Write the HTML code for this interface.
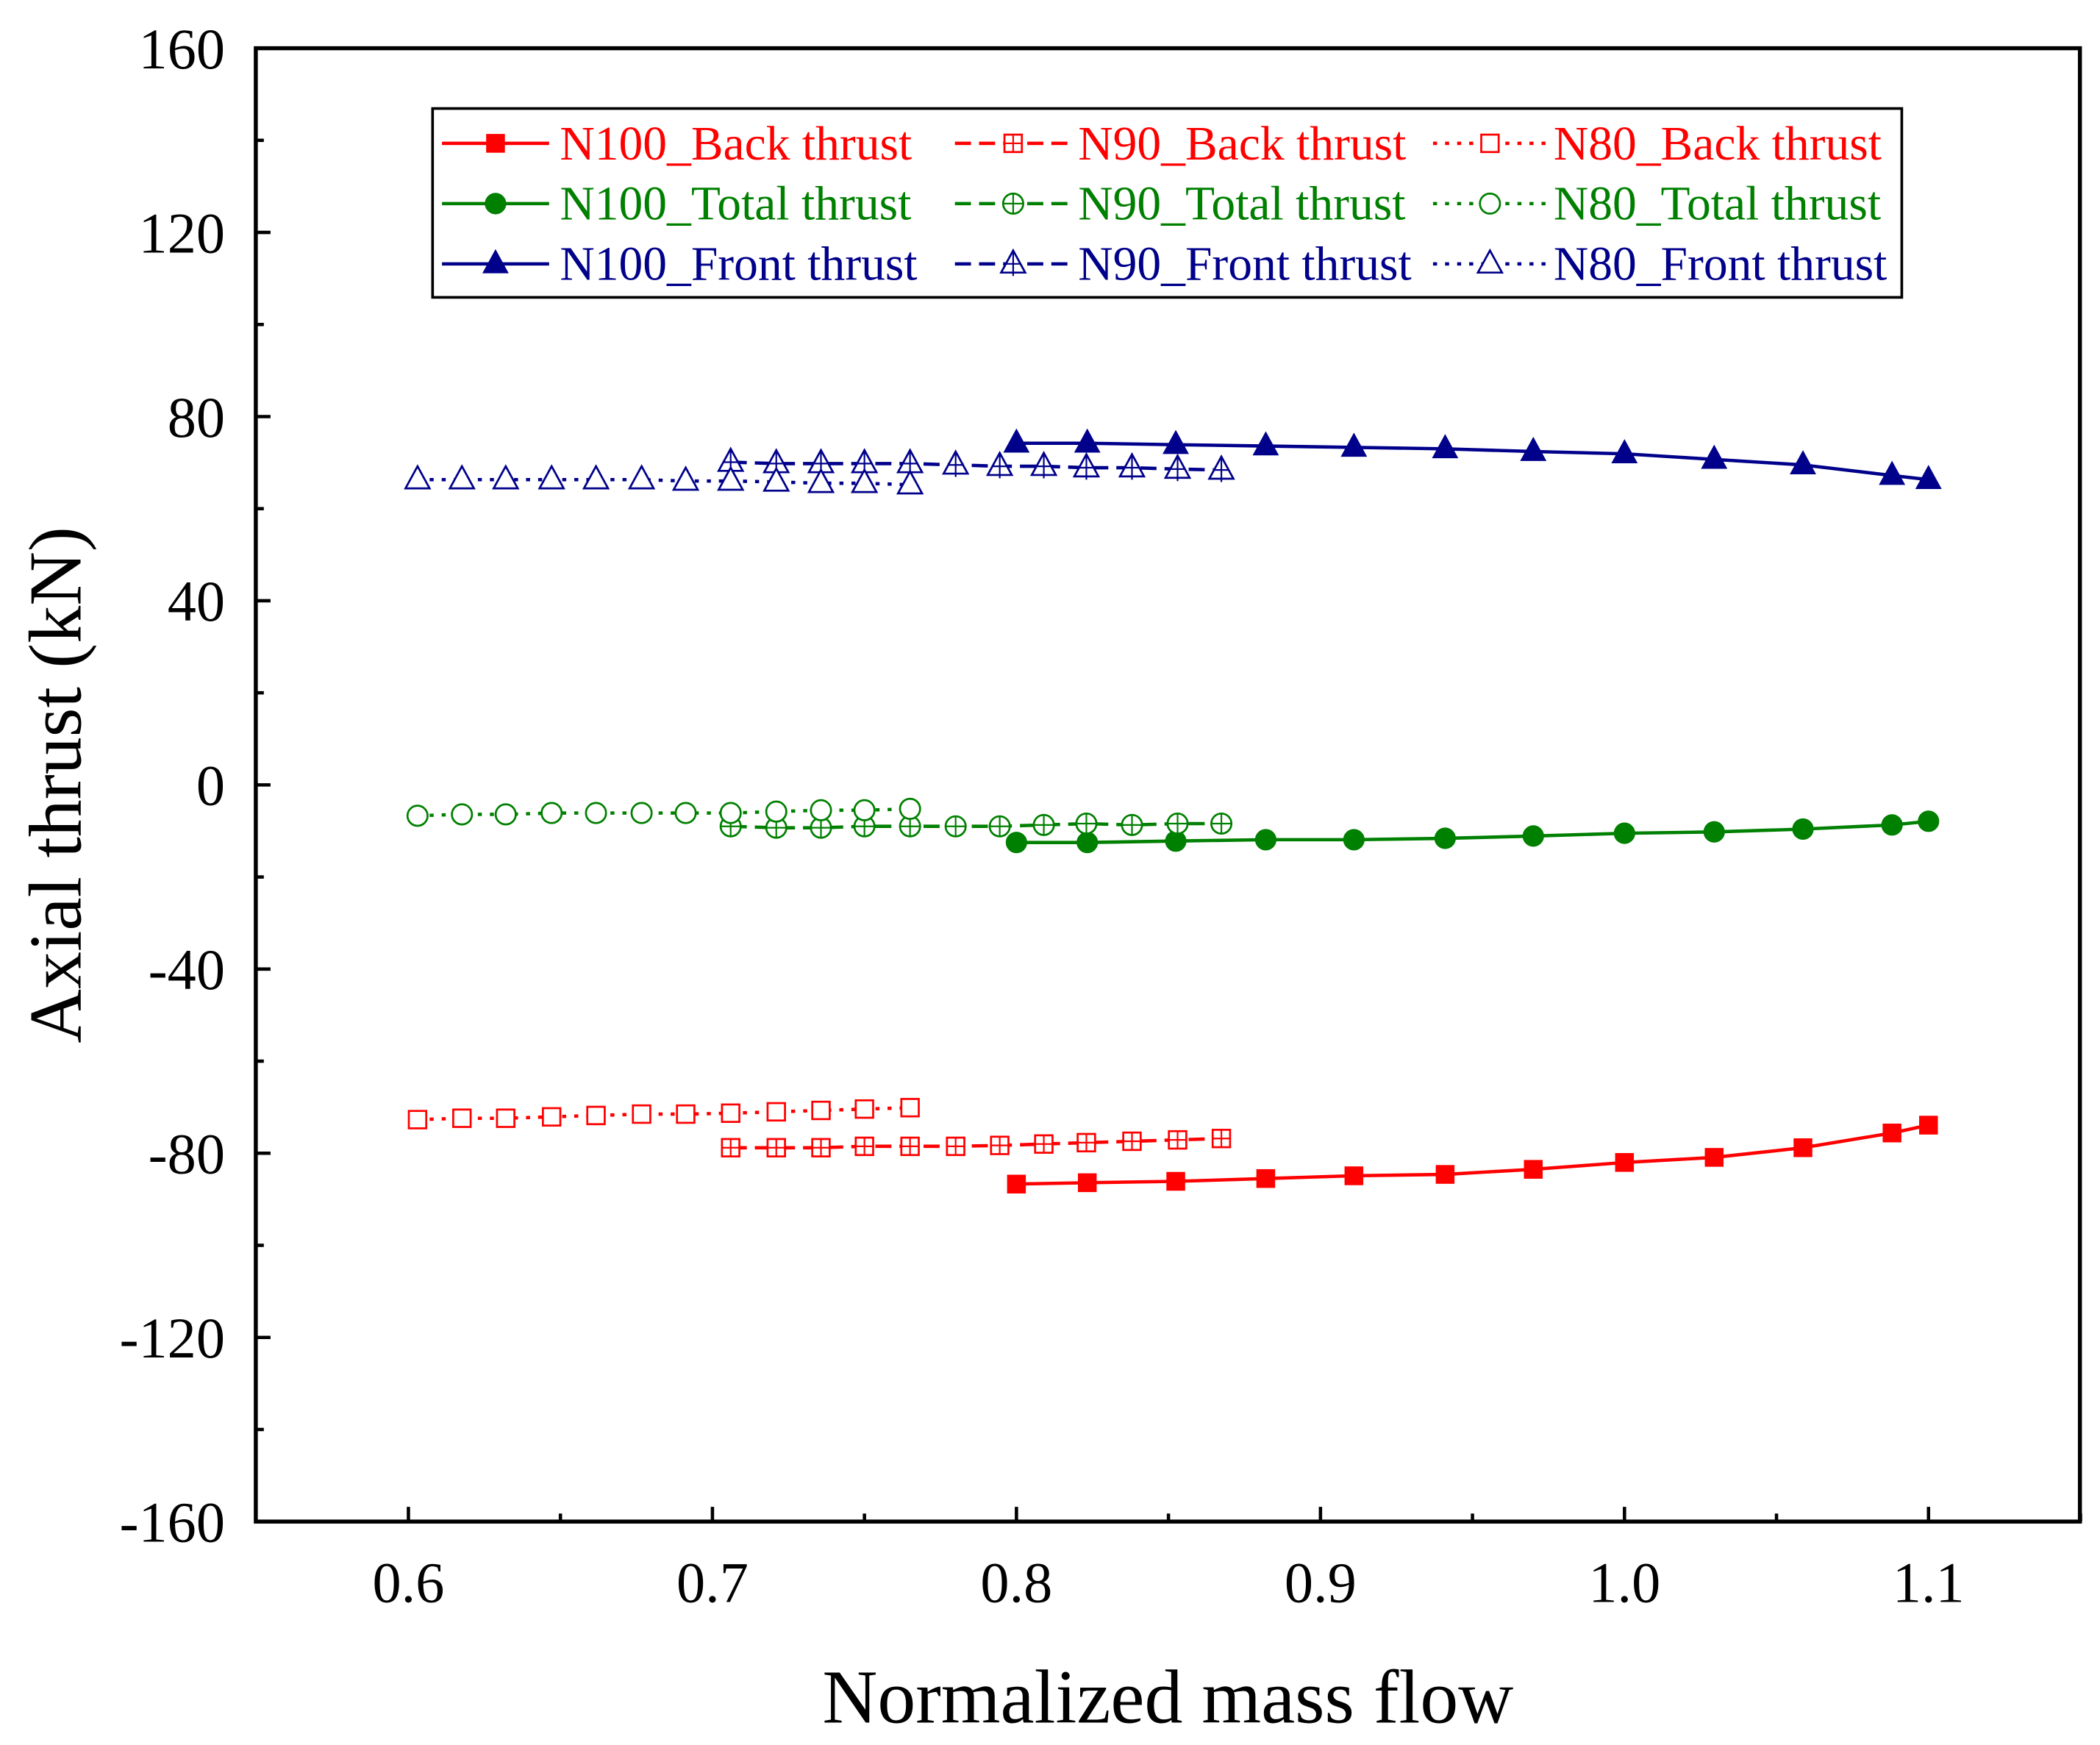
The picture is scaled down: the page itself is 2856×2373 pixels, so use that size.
<!DOCTYPE html>
<html><head><meta charset="utf-8"><style>html,body{margin:0;padding:0;background:#fff}svg{display:block}</style></head>
<body>
<svg id="chart" width="2856" height="2373" viewBox="0 0 1568 1302.8" xmlns="http://www.w3.org/2000/svg" font-family="'Liberation Serif', serif">
<rect x="0" y="0" width="1568" height="1303" fill="#fff"/>
<g id="plot"></g>
</svg>
<script>
const xTicks=[0.6,0.7,0.8,0.9,1.0,1.1];
const xTickLabels=["0.6","0.7","0.8","0.9","1.0","1.1"];
const yTicks=[160,120,80,40,0,-40,-80,-120,-160];
const yTickLabels=["160","120","80","40","0","-40","-80","-120","-160"];
const n100X=[0.8,0.8233,0.8524,0.882,0.911,0.941,0.970,1.0,1.0295,1.0587,1.088,1.1];
const n100Back=[-86.7,-86.4,-86.1,-85.5,-84.9,-84.6,-83.5,-82.0,-80.9,-78.8,-75.6,-73.9];
const n100Total=[-12.5,-12.5,-12.2,-11.9,-11.9,-11.6,-11.1,-10.5,-10.2,-9.6,-8.7,-7.9];
const n100Front=[74.2,74.2,73.9,73.6,73.3,73.0,72.4,71.9,70.7,69.5,67.2,66.3];
const n90X=[0.706,0.721,0.7357,0.750,0.765,0.780,0.7945,0.809,0.823,0.838,0.853,0.8674];
const n90Back=[-78.8,-78.8,-78.8,-78.5,-78.5,-78.5,-78.3,-78.0,-77.7,-77.4,-77.1,-76.8];
const n90Total=[-9.0,-9.3,-9.3,-9.0,-9.0,-9.0,-9.0,-8.7,-8.4,-8.7,-8.4,-8.4];
const n90Front=[70.1,69.8,69.8,69.8,69.8,69.5,69.2,69.2,68.9,68.9,68.6,68.4];
const n80X=[0.603,0.6176,0.632,0.6471,0.6617,0.6767,0.6912,0.706,0.721,0.7357,0.75,0.765];
const n80Back=[-72.7,-72.4,-72.4,-72.1,-71.8,-71.5,-71.5,-71.3,-71.0,-70.7,-70.4,-70.1];
const n80Total=[-6.7,-6.4,-6.4,-6.1,-6.1,-6.1,-6.1,-6.1,-5.8,-5.5,-5.5,-5.2];
const n80Front=[66.3,66.3,66.3,66.3,66.3,66.3,66.0,66.0,65.8,65.5,65.5,65.2];

const L=191,R=1553,T=36,B=1136;
const X0=0.5498,X1=1.1498,Y0=-160,Y1=160;
const sx=v=>L+(v-X0)/(X1-X0)*(R-L);
const sy=v=>B-(v-Y0)/(Y1-Y0)*(B-T);
const g=document.getElementById('plot');
const NS='http://www.w3.org/2000/svg';
function mk(tag,attrs,parent){const e=document.createElementNS(NS,tag);for(const k in attrs)e.setAttribute(k,attrs[k]);(parent||g).appendChild(e);return e;}

const frame=mk('rect',{x:L,y:T,width:R-L,height:B-T,fill:'none',stroke:'#000','stroke-width':3});


xTicks.forEach((v,i)=>{
  const t=mk('line',{x1:sx(v),x2:sx(v),y1:B,y2:B-11,stroke:'#000','stroke-width':2.5});
  
  
  const m=mk('line',{x1:sx(v+0.05),x2:sx(v+0.05),y1:B,y2:B-6,stroke:'#000','stroke-width':2.5});
  
  
  const lb=mk('text',{x:sx(v),y:1196,'font-size':43,'text-anchor':'middle'});
  lb.textContent=xTickLabels[i];
  
  
});
yTicks.forEach((v,i)=>{
  const t=mk('line',{x1:L,x2:L+11,y1:sy(v),y2:sy(v),stroke:'#000','stroke-width':2.5});
  
  
  if(v>-160){const m=mk('line',{x1:L,x2:L+6,y1:sy(v-20),y2:sy(v-20),stroke:'#000','stroke-width':2.5});
  
  }
  const lb=mk('text',{x:168,y:sy(v)+15,'font-size':43,'text-anchor':'end'});
  lb.textContent=yTickLabels[i];
  
  
});
const xt=mk('text',{x:872,y:1286,'font-size':57,'text-anchor':'middle'});
xt.textContent='Normalized mass flow';


const yt=mk('text',{x:0,y:0,'font-size':56,'text-anchor':'middle',transform:'translate(60,586) rotate(-90)'});
yt.textContent='Axial thrust (kN)';



const RED='#ff0000',GREEN='#008000',BLUE='#00008b';
function marker(shape,style,cx,cy,color,parent){
  const fill=style==='fill'?color:'#fff';
  const sw=style==='fill'?1:1.5;
  let e;
  if(shape==='sq'){const s=13;e=mk('rect',{x:cx-s/2,y:cy-s/2,width:s,height:s,fill,stroke:color,'stroke-width':sw},parent);
    if(style==='cross'){mk('line',{x1:cx-6.5,x2:cx+6.5,y1:cy,y2:cy,stroke:color,'stroke-width':1.2},parent);mk('line',{x1:cx,x2:cx,y1:cy-6.5,y2:cy+6.5,stroke:color,'stroke-width':1.2},parent);}}
  else if(shape==='ci'){e=mk('circle',{cx,cy,r:7.5,fill,stroke:color,'stroke-width':sw},parent);
    if(style==='cross'){mk('line',{x1:cx-7.5,x2:cx+7.5,y1:cy,y2:cy,stroke:color,'stroke-width':1.2},parent);mk('line',{x1:cx,x2:cx,y1:cy-7.5,y2:cy+7.5,stroke:color,'stroke-width':1.2},parent);}}
  else {e=mk('polygon',{points:`${cx},${cy-10} ${cx+9},${cy+6.5} ${cx-9},${cy+6.5}`,fill,stroke:color,'stroke-width':sw},parent);
    if(style==='cross'){mk('line',{x1:cx,x2:cx,y1:cy-10,y2:cy+9,stroke:color,'stroke-width':1.2},parent);mk('line',{x1:cx-6,x2:cx+6,y1:cy,y2:cy,stroke:color,'stroke-width':1.2},parent);}}
  return e;
}
const series=[
 {name:'n100-back-thrust',xs:n100X,ys:n100Back,c:RED,sh:'sq',st:'fill',dash:''},
 {name:'n100-total-thrust',xs:n100X,ys:n100Total,c:GREEN,sh:'ci',st:'fill',dash:''},
 {name:'n100-front-thrust',xs:n100X,ys:n100Front,c:BLUE,sh:'tr',st:'fill',dash:''},
 {name:'n90-back-thrust',xs:n90X,ys:n90Back,c:RED,sh:'sq',st:'cross',dash:'12 6'},
 {name:'n90-total-thrust',xs:n90X,ys:n90Total,c:GREEN,sh:'ci',st:'cross',dash:'12 6'},
 {name:'n90-front-thrust',xs:n90X,ys:n90Front,c:BLUE,sh:'tr',st:'cross',dash:'12 6'},
 {name:'n80-back-thrust',xs:n80X,ys:n80Back,c:RED,sh:'sq',st:'open',dash:'3 6'},
 {name:'n80-total-thrust',xs:n80X,ys:n80Total,c:GREEN,sh:'ci',st:'open',dash:'3 6'},
 {name:'n80-front-thrust',xs:n80X,ys:n80Front,c:BLUE,sh:'tr',st:'open',dash:'3 6'},
];
series.forEach(s=>{
  const grp=mk('g',{});
  
  
  const d=s.xs.map((x,i)=>(i?'L':'M')+sx(x).toFixed(1)+','+sy(s.ys[i]).toFixed(1)).join(' ');
  const p=mk('path',{d,fill:'none',stroke:s.c,'stroke-width':2.5,'stroke-dasharray':s.dash},grp);
  
  
  s.xs.forEach((x,i)=>{
    const m=marker(s.sh,s.st,sx(x),sy(s.ys[i]),s.c,grp);
    
    
  });
});
const lg=mk('g',{});


mk('rect',{x:323,y:81,width:1097,height:141,fill:'#fff',stroke:'#000','stroke-width':2},lg);
const labels=['N100_Back thrust','N100_Total thrust','N100_Front thrust','N90_Back thrust','N90_Total thrust','N90_Front thrust','N80_Back thrust','N80_Total thrust','N80_Front thrust'];
const cols=[{x1:330,x2:410,tx:418},{x1:713,x2:800,tx:805},{x1:1070,x2:1155,tx:1160}];
series.forEach((s,i)=>{
  const col=cols[Math.floor(i/3)],row=i%3,y=107+row*45;
  const e=mk('g',{},lg);
  
  
  mk('line',{x1:col.x1,x2:col.x2,y1:y,y2:y,stroke:s.c,'stroke-width':2.5,'stroke-dasharray':s.dash},e);
  marker(s.sh,s.st,(col.x1+col.x2)/2,y,s.c,e);
  const t=mk('text',{x:col.tx,y:y+12,'font-size':36,fill:s.c},e);
  t.textContent=labels[i];
});
</script>
</body></html>
